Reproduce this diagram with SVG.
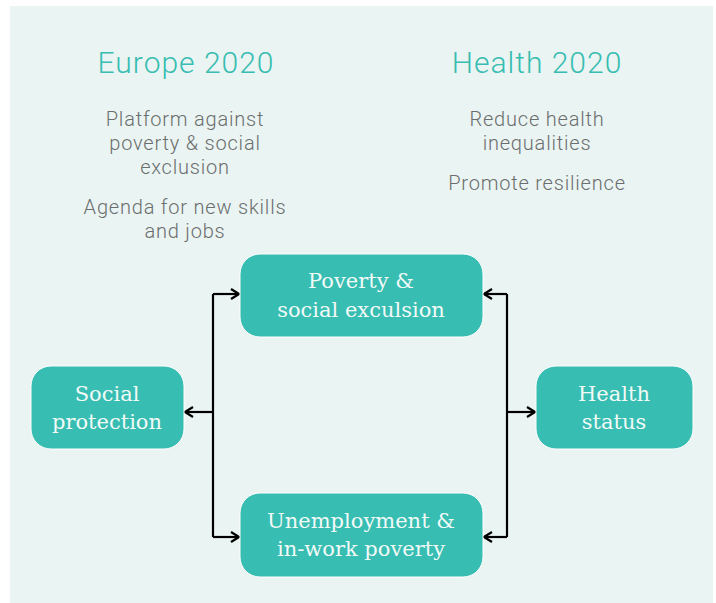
<svg xmlns="http://www.w3.org/2000/svg" width="716" height="603" viewBox="0 0 716 603">
<defs>
<style>
.bg{fill:#eaf4f2}
.node rect{fill:#37bdb1;stroke:#ffffff;stroke-width:1}
.node text{font-family:"DejaVu Serif","Liberation Serif",serif;font-size:21px;fill:#f2faf8;text-anchor:middle}
.head{font-family:Roboto,"Liberation Sans",sans-serif;font-weight:300;font-size:30px;letter-spacing:1px;fill:#37bdb1;text-anchor:middle}
.sub{font-family:Roboto,"Liberation Sans",sans-serif;font-weight:300;font-size:20px;letter-spacing:0.8px;fill:#6b6e6e;text-anchor:middle}
.conn path{fill:none;stroke:#000;stroke-width:2.2}
</style>
<marker id="arr" viewBox="0 0 10 12" refX="9" refY="6" markerWidth="10" markerHeight="12" markerUnits="userSpaceOnUse" orient="auto">
<path d="M1,1 L9,6 L1,11" fill="none" stroke="#000" stroke-width="2.2"/>
</marker>
</defs>
<rect class="bg" x="10" y="6" width="703" height="597"/>
<g id="europe">
<text class="head" x="186" y="73">Europe 2020</text>
<text class="sub" x="185" y="126">Platform against</text>
<text class="sub" x="185" y="150">poverty &amp; social</text>
<text class="sub" x="185" y="174">exclusion</text>
<text class="sub" x="185" y="214">Agenda for new skills</text>
<text class="sub" x="185" y="238">and jobs</text>
</g>
<g id="health2020">
<text class="head" x="537" y="73">Health 2020</text>
<text class="sub" x="537" y="126">Reduce health</text>
<text class="sub" x="537" y="150">inequalities</text>
<text class="sub" x="537" y="190">Promote resilience</text>
</g>
<g class="conn" id="connectors">
<path d="M213,294 V537"/>
<path d="M213,294 H239" marker-end="url(#arr)"/>
<path d="M213,537 H239" marker-end="url(#arr)"/>
<path d="M213,412 H185" marker-end="url(#arr)"/>
<path d="M507,294 V537"/>
<path d="M507,294 H484" marker-end="url(#arr)"/>
<path d="M507,537 H484" marker-end="url(#arr)"/>
<path d="M507,412 H535" marker-end="url(#arr)"/>
</g>
<g class="node" id="poverty">
<rect x="240" y="254" width="243" height="83" rx="20"/>
<text x="361" y="288">Poverty &amp;</text>
<text x="361" y="317">social exculsion</text>
</g>
<g class="node" id="social-protection">
<rect x="31" y="366" width="153" height="83" rx="20"/>
<text x="107" y="401">Social</text>
<text x="107" y="429">protection</text>
</g>
<g class="node" id="health-status">
<rect x="536" y="366" width="157" height="83" rx="20"/>
<text x="614" y="401">Health</text>
<text x="614" y="429">status</text>
</g>
<g class="node" id="unemployment">
<rect x="240" y="493" width="243" height="84" rx="20"/>
<text x="361" y="528">Unemployment &amp;</text>
<text x="361" y="556">in-work poverty</text>
</g>
</svg>
